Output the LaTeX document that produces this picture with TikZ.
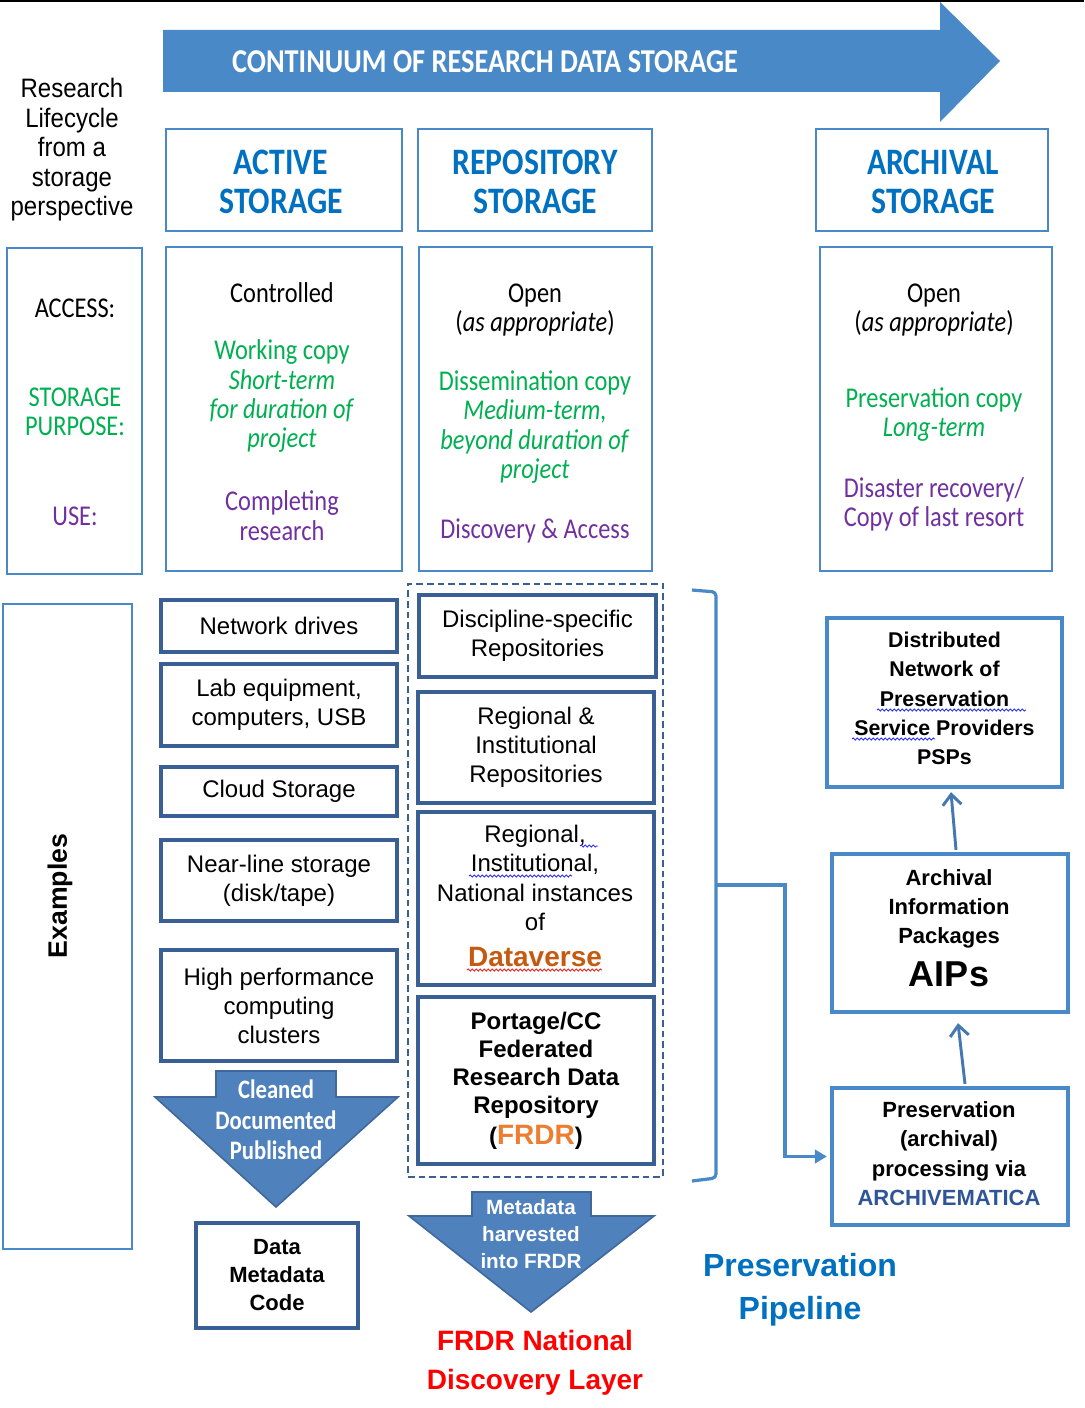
\documentclass[tikz,border=0pt]{standalone}
\usepackage{fontspec}
\setmainfont{Liberation Sans}
\newfontfamily\calib[FakeStretch=0.85]{Carlito}
\newfontfamily\arn[FakeStretch=0.9]{Liberation Sans}
\usetikzlibrary{arrows.meta,calc,decorations.pathmorphing}
\definecolor{lblue}{HTML}{4A89C8}
\definecolor{hblue}{HTML}{0070C0}
\definecolor{dblue}{HTML}{3A5F94}
\definecolor{afill}{HTML}{4F81BD}
\definecolor{aborder}{HTML}{41689A}
\definecolor{ggreen}{HTML}{00B050}
\definecolor{ppurple}{HTML}{7030A0}
\definecolor{forange}{HTML}{ED7D31}
\definecolor{dvbrown}{HTML}{C55A11}
\definecolor{amc}{HTML}{2F5597}
\definecolor{uparrc}{HTML}{4677B0}
\definecolor{sqblue}{HTML}{3030FF}
\definecolor{sqred}{HTML}{FF2020}
\begin{document}
\begin{tikzpicture}[x=0.75pt,y=-0.75pt,
  hdr/.style={draw=lblue, line width=2.2pt, minimum height=76.5pt, inner sep=0pt},
  hdrtxt/.style={text=hblue, font=\calib\bfseries\fontsize{28}{29.25}\selectfont, align=center, inner sep=0pt},
  colbox/.style={draw=lblue, line width=2.2pt, minimum height=243pt, inner sep=0pt},
  body/.style={font=\calib\fontsize{21.5}{22}\selectfont, align=center, inner sep=0pt},
  exbox/.style={draw=dblue, line width=3.4pt, font=\fontsize{18}{21.75}\selectfont, align=center, inner sep=0pt},
  rbox/.style={draw=lblue, line width=3.2pt, font=\bfseries\fontsize{16}{22}\selectfont, align=center, inner sep=0pt},
  blockarr/.style={fill=afill, draw=aborder, line width=1.2pt},
  link/.style={draw=lblue, line width=2.4pt},
  uparr/.style={draw=uparrc, line width=2.2pt, -{Straight Barb[length=8pt,width=14pt,line width=2.2pt]}},
  squig/.style={decorate, decoration={snake, amplitude=0.8pt, segment length=3pt}, line width=0.7pt}
]
\useasboundingbox (0,0) rectangle (1084,1408);
\fill[black] (0,0) rectangle (1084,2.5);

% top continuum arrow
\fill[lblue] (163,30) -- (940,30) -- (940,2) -- (1000,61) -- (940,122) -- (940,92) -- (163,92) -- cycle;
\node[text=white, font=\calib\bfseries\fontsize{25}{25}\selectfont, inner sep=0pt] (cont) at (485,62) {CONTINUUM OF RESEARCH DATA STORAGE};

% left caption
\node[font=\arn\fontsize{20}{22.1}\selectfont, align=center, inner sep=0pt] (life) at (72,150) {Research\\Lifecycle\\from a\\storage\\perspective};

% headers
\node[hdr, minimum width=177pt] (hact) at (284,180) {};
\node[hdr, minimum width=175.5pt] (hrep) at (535,180) {};
\node[hdr, minimum width=174pt] (harc) at (932,180) {};
\node[hdrtxt] (tact) at (281,182) {ACTIVE\\STORAGE};
\node[hdrtxt] (trep) at (535,182) {REPOSITORY\\STORAGE};
\node[hdrtxt] (tarc) at (933,182) {ARCHIVAL\\STORAGE};

% row 2 boxes
\node[colbox, minimum width=101.25pt, minimum height=244.5pt] (clab) at (74.5,411) {};
\node[colbox, minimum width=177pt] (cact) at (284,409) {};
\node[colbox, minimum width=174.75pt] (crep) at (535.5,409) {};
\node[colbox, minimum width=174pt] (carc) at (936,409) {};

\node[body] (lacc) at (75,308) {ACCESS:};
\node[body, text=ggreen] (lpur) at (75,411.5) {STORAGE\\PURPOSE:};
\node[body, text=ppurple] (luse) at (75,516) {USE:};

\node[body] (a1) at (282,293) {Controlled};
\node[body, text=ggreen] (a2) at (282,396.5) {Working copy\\\textit{Short-term}\\\textit{for duration of}\\\textit{project}};
\node[body, text=ppurple] (a3) at (282,515.5) {Completing\\research};

\node[body] (r1) at (535,310) {Open\\(\textit{as appropriate})};
\node[body, text=ggreen] (r2) at (535,427) {Dissemination copy\\\textit{Medium-term,}\\\textit{beyond duration of}\\\textit{project}};
\node[body, text=ppurple] (r3) at (535,531) {Discovery \& Access};

\node[body] (v1) at (934,310) {Open\\(\textit{as appropriate})};
\node[body, text=ggreen] (v2) at (934,414.5) {Preservation copy\\\textit{Long-term}};
\node[body, text=ppurple] (v3) at (934,504.5) {Disaster recovery/\\Copy of last resort};

% examples label box
\node[draw=lblue, line width=2.2pt, minimum width=96.75pt, minimum height=483.75pt, inner sep=0pt] (exb) at (67.5,926.5) {};
\node[rotate=90, font=\bfseries\fontsize{20}{20}\selectfont, inner sep=0pt] (exl) at (60,896) {Examples};

% active examples
\node[exbox, minimum width=177pt, minimum height=39pt] (nd) at (279,626) {Network drives};
\node[exbox, minimum width=177pt, minimum height=61.5pt] (labeq) at (279,705) {Lab equipment,\\computers, USB};
\node[exbox, minimum width=177pt, minimum height=36.75pt] (cloud) at (279,791.5) {Cloud Storage};
\node[exbox, minimum width=177pt, minimum height=60.75pt] (near) at (279,880.5) {Near-line storage\\(disk/tape)};
\node[exbox, minimum width=177pt, minimum height=83.25pt] (hpc) at (279,1005.5) {High performance\\computing\\clusters};

% repository examples
\node[draw=dblue, line width=2pt, dash pattern=on 5pt off 3pt, minimum width=191.25pt, minimum height=444.75pt, inner sep=0pt] (dash) at (535.5,880.5) {};
\node[exbox, minimum width=177.75pt, minimum height=61.5pt] (disc) at (537.5,636) {Discipline-specific\\Repositories};
\node[exbox, minimum width=177pt, minimum height=83.25pt] (reg) at (536,747.5) {Regional \&\\Institutional\\Repositories};
\node[exbox, minimum width=177pt, minimum height=129.75pt] (dv) at (536,898.5) {};
\node[font=\fontsize{18}{22.1}\selectfont, align=center, inner sep=0pt] (dvt) at (535,896) {Regional,\\Institutional,\\National instances\\of\\[5pt]{\bfseries\color{dvbrown}\fontsize{21}{21}\selectfont Dataverse}};
\node[exbox, minimum width=177pt, minimum height=125.25pt, font=\bfseries\fontsize{18}{21}\selectfont] (frdr) at (536,1080.5) {Portage/CC\\Federated\\Research Data\\Repository\\[2pt]({\color{forange}\fontsize{21}{21}\selectfont FRDR})};

% archival pipeline boxes
\node[rbox, minimum width=176.25pt, minimum height=126.75pt] (dist) at (944.5,702.5) {};
\node[font=\bfseries\fontsize{16}{22}\selectfont, align=center, inner sep=0pt] (distt) at (944.5,698.5) {Distributed\\Network of\\Preservation\\Service Providers\\PSPs};
\node[rbox, minimum width=177pt, minimum height=118.5pt] (aip) at (950,933) {};
\node[font=\bfseries\fontsize{16.5}{22}\selectfont, align=center, inner sep=0pt] (aipt) at (949,928) {Archival\\Information\\Packages\\[9pt]{\fontsize{27}{27}\selectfont AIPs}};
\node[rbox, minimum width=177pt, minimum height=102.75pt] (pres) at (950,1156.5) {};
\node[font=\bfseries\fontsize{16.5}{22}\selectfont, align=center, inner sep=0pt] (prest) at (949,1153.5) {Preservation\\(archival)\\processing via\\{\color{amc}ARCHIVEMATICA}};

% bracket and connector
\draw[link, rounded corners=3pt] (692,590) -- (716,592) -- (716,1178) -- (692,1181);
\coordinate (brk) at (716,885);
\draw[link, -{Triangle[length=9pt,width=10pt]}] (brk) -- (740,885) -- (785,885) |- ($(pres.west)+(-3,0)$);

\draw[uparr] ($(pres.north)+(15,-2)$) -- ($(aip.south)+(8,9)$);
\draw[uparr] ($(aip.north)+(6,-2)$) -- ($(dist.south)+(6.5,3)$);

% block arrows
\filldraw[blockarr] (216,1071) -- (336,1071) -- (336,1097) -- (398,1097) -- (276,1207) -- (155,1097) -- (216,1097) -- cycle;
\node[text=white, font=\calib\bfseries\fontsize{20}{23}\selectfont, align=center, inner sep=0pt] (cdp) at (276,1120) {Cleaned\\Documented\\Published};
\filldraw[blockarr] (472,1192) -- (591,1192) -- (591,1216) -- (654,1216) -- (531,1312) -- (409,1216) -- (472,1216) -- cycle;
\node[text=white, font=\bfseries\fontsize{15.5}{20.25}\selectfont, align=center, inner sep=0pt] (mh) at (531,1234) {Metadata\\harvested\\into FRDR};

\node[draw=dblue, line width=3.2pt, minimum width=121.5pt, minimum height=78.75pt, font=\bfseries\fontsize{16.5}{21}\selectfont, align=center, inner sep=0pt] (dmc) at (277,1275.5) {Data\\Metadata\\Code};

\node[text=red, font=\bfseries\fontsize{21}{29}\selectfont, align=center, inner sep=0pt] (nat) at (535,1363) {FRDR National\\Discovery Layer};
\node[text=hblue, font=\bfseries\fontsize{24}{32}\selectfont, align=center, inner sep=0pt] (pipe) at (800,1290) {Preservation\\Pipeline};

% spelling squiggles
\draw[squig, sqblue] (580,846) -- (598,846);
\draw[squig, sqblue] (469,876) -- (572,876);
\draw[squig, sqred] (467,970) -- (602,970);
\draw[squig, sqblue] (877,710) -- (1026,710);
\draw[squig, sqblue] (852,739) -- (935,739);
\end{tikzpicture}
\end{document}
